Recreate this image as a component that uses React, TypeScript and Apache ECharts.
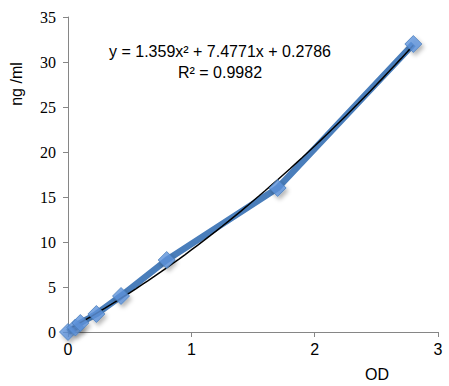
import React, { useEffect, useRef } from "react";
import * as echarts from "echarts";

const odValues = [0, 0.06, 0.1, 0.23, 0.43, 0.8, 1.7, 2.8];
const concValues = [0, 0.5, 1, 2, 4, 8, 16, 32];
// printed trendline: y = 1.359x² + 7.4771x + 0.2786
const trendCoeffs = [1.359, 7.4771, 0.2786];
const xTicks = [0, 1, 2, 3];
const yTicks = [0, 5, 10, 15, 20, 25, 30, 35];

const SANS = "'Liberation Sans', Arial, sans-serif";
const SERIF = "'Liberation Serif', 'Times New Roman', serif";

export default function App() {
  const ref = useRef<HTMLDivElement>(null);
  useEffect(() => {
    document.body.style.margin = "0";
    if (!ref.current) return;
    const chart = echarts.init(ref.current, null, { renderer: "svg" });
    const pts = odValues.map((x, i) => [x, concValues[i]]);
    const xMax = odValues[odValues.length - 1];
    const trend: number[][] = [];
    for (let k = 0; k <= 56; k++) {
      const x = (xMax * k) / 56;
      trend.push([x, trendCoeffs[0] * x * x + trendCoeffs[1] * x + trendCoeffs[2]]);
    }
    chart.setOption({
      animation: false,
      grid: { left: 68, right: 11, top: 17, bottom: 54 },
      xAxis: {
        type: "value",
        min: xTicks[0],
        max: xTicks[xTicks.length - 1],
        interval: 1,
        splitLine: { show: false },
        axisLine: { lineStyle: { color: "#868686", width: 1 } },
        axisTick: { show: true, length: 5, lineStyle: { color: "#868686" } },
        axisLabel: { color: "#000", fontFamily: SANS, fontSize: 16, margin: 9, showMaxLabel: true },
      },
      yAxis: {
        type: "value",
        min: yTicks[0],
        max: yTicks[yTicks.length - 1],
        interval: 5,
        splitLine: { show: false },
        axisLine: { show: true, lineStyle: { color: "#868686", width: 1 } },
        axisTick: { show: true, length: 5, lineStyle: { color: "#868686" } },
        axisLabel: { color: "#000", fontFamily: SERIF, fontSize: 16, margin: 12 },
      },
      graphic: [
        {
          type: "text",
          x: 16,
          y: 84,
          rotation: Math.PI / 2,
          style: {
            text: "ng /ml",
            fontFamily: SANS,
            fontSize: 16,
            fill: "#000",
            align: "center",
            verticalAlign: "middle",
          },
        },
        {
          type: "text",
          x: 377,
          y: 374,
          style: {
            text: "OD",
            fontFamily: SANS,
            fontSize: 16,
            fill: "#000",
            align: "center",
            verticalAlign: "middle",
          },
        },
        {
          type: "text",
          x: 220,
          y: 51,
          style: {
            text: "y = 1.359x² + 7.4771x + 0.2786",
            fontFamily: SANS,
            fontSize: 16,
            fill: "#000",
            align: "center",
            verticalAlign: "middle",
          },
        },
        {
          type: "text",
          x: 220,
          y: 72,
          style: {
            text: "R² = 0.9982",
            fontFamily: SANS,
            fontSize: 16,
            fill: "#000",
            align: "center",
            verticalAlign: "middle",
          },
        },
      ],
      series: [
        {
          type: "line",
          data: pts,
          showSymbol: false,
          symbol: "none",
          lineStyle: { color: "#4A7EBB", width: 6.5 },
          z: 2,
        },
        {
          type: "line",
          data: trend,
          showSymbol: false,
          symbol: "none",
          lineStyle: { color: "#000", width: 1.5 },
          z: 3,
        },
        {
          type: "scatter",
          data: pts,
          symbol: "diamond",
          symbolSize: 17,
          itemStyle: {
            color: "#5F94DC",
            borderColor: "#4A7EBB",
            borderWidth: 1,
            shadowBlur: 4,
            shadowOffsetX: 2,
            shadowOffsetY: 3,
            shadowColor: "rgba(0,0,0,0.35)",
          },
          z: 4,
        },
      ],
    });
    return () => chart.dispose();
  }, []);
  return <div ref={ref} style={{ width: 449, height: 386 }} />;
}
